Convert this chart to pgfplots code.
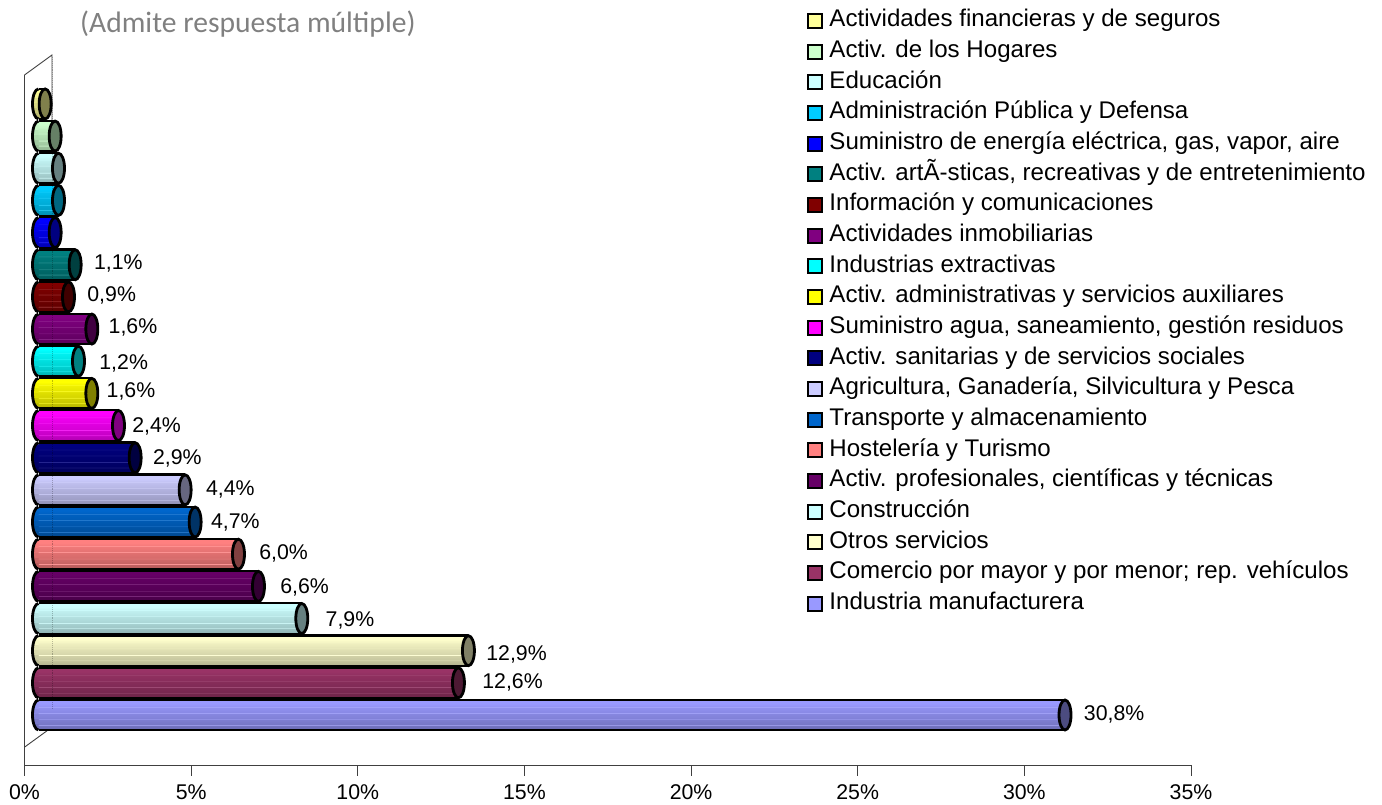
\documentclass[border=0pt]{standalone}
\usepackage{pgfplots}
\pgfplotsset{compat=1.18}
\usepackage{fontspec}
\setmainfont{Liberation Sans}
\newfontfamily\calfont{Carlito}

\definecolor{c01}{HTML}{FFFF99}
\definecolor{c02}{HTML}{CCFFCC}
\definecolor{c03}{HTML}{CCFFFF}
\definecolor{c04}{HTML}{00CCFF}
\definecolor{c05}{HTML}{0000FF}
\definecolor{c06}{HTML}{008080}
\definecolor{c07}{HTML}{800000}
\definecolor{c08}{HTML}{800080}
\definecolor{c09}{HTML}{00FFFF}
\definecolor{c10}{HTML}{FFFF00}
\definecolor{c11}{HTML}{FF00FF}
\definecolor{c12}{HTML}{000080}
\definecolor{c13}{HTML}{CCCCFF}
\definecolor{c14}{HTML}{0066CC}
\definecolor{c15}{HTML}{FF8080}
\definecolor{c16}{HTML}{660066}
\definecolor{c17}{HTML}{CCFFFF}
\definecolor{c18}{HTML}{FFFFCC}
\definecolor{c19}{HTML}{993366}
\definecolor{c20}{HTML}{9999FF}

% vertical gradient with thin lighter lines, as the bars have
\colorlet{bandc}{black}
\pgfdeclareverticalshading[bandc]{banded}{100bp}{%
  color(0bp)=(bandc!72!black);
  color(25bp)=(bandc!72!black);
  color(31bp)=(bandc!76!black);
  color(32bp)=(bandc!80!white);
  color(33bp)=(bandc!78!black);
  color(41bp)=(bandc!82!black);
  color(42bp)=(bandc!82!white);
  color(43bp)=(bandc!84!black);
  color(53bp)=(bandc!88!black);
  color(54bp)=(bandc!82!white);
  color(55bp)=(bandc!90!black);
  color(64bp)=(bandc!94!black);
  color(65bp)=(bandc!85!white);
  color(66bp)=(bandc!96!black);
  color(71bp)=(bandc);
  color(75bp)=(bandc);
  color(100bp)=(bandc)}

\pgfdeclareplotmark{capell}{%
  \pgfpathellipse{\pgfpointorigin}{\pgfqpoint{6bp}{0pt}}{\pgfqpoint{0pt}{15bp}}%
  \pgfusepathqfillstroke}

% left half of the cylinder's rim, filled in slices
\newcommand{\lhalf}{%
  \pgfpathmoveto{\pgfqpoint{0pt}{15bp}}%
  \pgfpathcurveto{\pgfqpoint{-3.3bp}{15bp}}{\pgfqpoint{-6bp}{8.28bp}}{\pgfqpoint{-6bp}{0pt}}%
  \pgfpathcurveto{\pgfqpoint{-6bp}{-8.28bp}}{\pgfqpoint{-3.3bp}{-15bp}}{\pgfqpoint{0pt}{-15bp}}}
\newcommand{\lslice}[2]{%
  \begin{pgfscope}%
  \pgfpathrectangle{\pgfqpoint{-8bp}{#1bp}}{\pgfqpoint{9bp}{5.2bp}}\pgfusepath{clip}%
  \colorlet{lcol}{bandc!#2!black}\pgfsetfillcolor{lcol}%
  \lhalf\pgfusepath{fill}%
  \end{pgfscope}}
\pgfdeclareplotmark{capleft}{%
  \lslice{10}{100}\lslice{5}{96}\lslice{0}{90}\lslice{-5}{85}\lslice{-10}{79}\lslice{-15}{73}%
  \pgfsetstrokecolor{black}\pgfsetlinewidth{2.8bp}\lhalf\pgfusepath{stroke}}

% colour, row, value, legend text
\newcommand{\cyl}[4]{%
  \addplot[forget plot,xbar,bar shift=0pt,bar width=32.8bp,draw=none,fill=black]
    coordinates {(#3,#2)};
  \addplot[xbar,bar shift=0pt,bar width=27.2bp,draw=none,/utils/exec={\colorlet{bandc}{#1}},shading=banded,
    legend image code/.code={\draw[shade=false,fill=#1,draw=black,line width=2bp] (0,-5.5bp) rectangle (14bp,8.5bp);}]
    coordinates {(#3,#2)};
  \addlegendentry{#4}
  \addplot[forget plot,only marks,mark=capleft,/utils/exec={\colorlet{bandc}{#1}}]
    coordinates {(0,#2)};
}
\newcommand{\capend}[3]{%
  \addplot[forget plot,only marks,mark=capell,mark options={draw=black,fill=#1!50!black,line width=2.8bp}]
    coordinates {(#3,#2)};
}
% the end cap with the value label at dx, dy
\newcommand{\caplab}[5]{%
  \addplot[forget plot,only marks,mark=capell,mark options={draw=black,fill=#1!50!black,line width=2.8bp},
    point meta=x,nodes near coords={\pgfmathprintnumber[fixed,fixed zerofill,precision=1,use comma,assume math mode=true]{\pgfplotspointmeta}\%},
    nodes near coords align={anchor=west},
    every node near coord/.append style={font=\fontsize{21.3bp}{24bp}\selectfont,text=black,inner sep=0pt,xshift=#4bp,yshift=#5bp}]
    coordinates {(#3,#2)};
}

\begin{document}
\begin{tikzpicture}
\path[use as bounding box] (0,0) rectangle (1382bp,805bp);
\begin{axis}[
    at={(24.5bp,40bp)},anchor=south west,
    scale only axis,width=1166.5bp,height=690bp,
    xmin=0,xmax=35,ymin=-0.555,ymax=20.90,
    clip=false,
    axis x line=bottom,axis y line=left,
    axis line style={-,draw=black!75,line width=0.9bp},
    ytick=\empty,
    xtick={0,5,...,35},
    xticklabel={\pgfmathprintnumber[assume math mode=true]{\tick}\%},
    xticklabel style={font=\fontsize{21.3bp}{24bp}\selectfont,yshift=-5bp},
    tick align=outside,major tick length=11bp,
    tick style={draw=black!75,line width=0.9bp},
    every axis plot/.append style={xshift=14bp},
    legend cell align=left,
    legend style={at={(0.671,1.090)},anchor=north west,draw=none,fill=none,inner sep=0pt,
      font=\fontsize{24.1bp}{26bp}\selectfont,row sep=12.41bp,
      nodes={inner sep=0pt,text height=13bp,text depth=4.5bp},
      /tikz/every odd column/.append style={column sep=6bp}},
]
\draw[black!75,line width=0.9bp] (rel axis cs:0,1) -- ++(27.5bp,20bp) -- ++(0,-690bp) -- ++(-27.5bp,-20bp);

\cyl{c01}{20}{0.2}{Actividades financieras y de seguros}\capend{c01}{20}{0.2}
\cyl{c02}{19}{0.5}{Activ. de los Hogares}\capend{c02}{19}{0.5}
\cyl{c03}{18}{0.6}{Educación}\capend{c03}{18}{0.6}
\cyl{c04}{17}{0.6}{Administración Pública y Defensa}\capend{c04}{17}{0.6}
\cyl{c05}{16}{0.5}{Suministro de energía eléctrica, gas, vapor, aire}\capend{c05}{16}{0.5}
\cyl{c06}{15}{1.1}{Activ. artÃ-sticas, recreativas y de entretenimiento}\caplab{c06}{15}{1.1}{17.5}{1.5}
\cyl{c07}{14}{0.9}{Información y comunicaciones}\caplab{c07}{14}{0.9}{17.5}{1.5}
\cyl{c08}{13}{1.6}{Actividades inmobiliarias}\caplab{c08}{13}{1.6}{15.5}{1.5}
\cyl{c09}{12}{1.2}{Industrias extractivas}\caplab{c09}{12}{1.2}{19.5}{-2.5}
\cyl{c10}{11}{1.6}{Activ. administrativas y servicios auxiliares}\caplab{c10}{11}{1.6}{13.5}{1.5}
\cyl{c11}{10}{2.4}{Suministro agua, saneamiento, gestión residuos}\caplab{c11}{10}{2.4}{12.5}{-0.5}
\cyl{c12}{9}{2.9}{Activ. sanitarias y de servicios sociales}\caplab{c12}{9}{2.9}{16.5}{-0.5}
\cyl{c13}{8}{4.4}{Agricultura, Ganadería, Silvicultura y Pesca}\caplab{c13}{8}{4.4}{19.5}{0.5}
\cyl{c14}{7}{4.7}{Transporte y almacenamiento}\caplab{c14}{7}{4.7}{14.5}{-0.5}
\cyl{c15}{6}{6.0}{Hostelería y Turismo}\caplab{c15}{6}{6.0}{19.5}{0.5}
\cyl{c16}{5}{6.6}{Activ. profesionales, científicas y técnicas}\caplab{c16}{5}{6.6}{20.5}{-1.5}
\cyl{c17}{4}{7.9}{Construcción}\caplab{c17}{4}{7.9}{22.5}{-1.5}
\cyl{c18}{3}{12.9}{Otros servicios}\caplab{c18}{3}{12.9}{16.5}{-3.5}
\cyl{c19}{2}{12.6}{Comercio por mayor y por menor; rep. vehículos}\caplab{c19}{2}{12.6}{22.5}{0.5}
\cyl{c20}{1}{30.8}{Industria manufacturera}\caplab{c20}{1}{30.8}{17.5}{0.5}
% the back edge shows faintly through the bars
\draw[black,opacity=0.25,line width=0.9bp,densely dotted] (rel axis cs:0,1) ++(27.5bp,0) -- ++(0,-670bp);
\end{axis}
\node[anchor=west,inner sep=0pt,text=black!50,font=\calfont\fontsize{29.6bp}{32bp}\selectfont] at (80bp,781bp) {(Admite respuesta múltiple)};
\end{tikzpicture}
\end{document}
